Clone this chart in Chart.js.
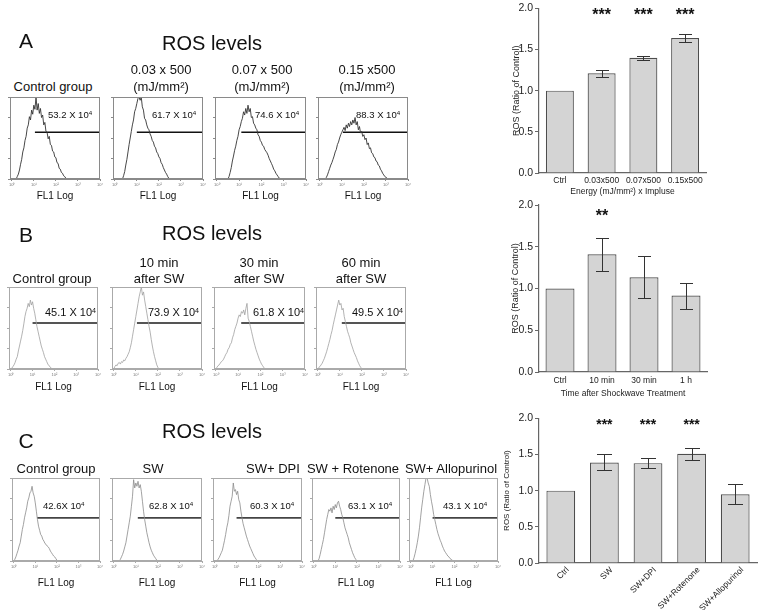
<!DOCTYPE html>
<html><head><meta charset="utf-8">
<script src="https://cdn.jsdelivr.net/npm/chart.js@4.4.0/dist/chart.umd.min.js"></script>
<style>
html,body{margin:0;padding:0;background:#fff;}
#wrap{position:relative;width:760px;height:610px;background:#fff;font-family:"Liberation Sans",Arial,sans-serif;color:#111;overflow:hidden}
.t{position:absolute;white-space:nowrap;line-height:1;transform:translate(-50%,-50%);text-align:center}
.l{position:absolute;white-space:nowrap;line-height:1;transform:translate(0,-50%)}
.sup{font-size:0.65em;position:relative;top:-0.45em}
canvas{position:absolute;}
</style></head><body><div id="wrap"></div>
<script>
// ===================== DATA =====================
const BIN = 0.05;                       // histogram bin width (decades)
const SUP = ['\u2070','\u00b9','\u00b2','\u00b3','\u2074'];

// ---- Row A (energy) ----
const titlesA = [['Control group'], ['0.03 x 500', '(mJ/mm\u00b2)'], ['0.07 x 500', '(mJ/mm\u00b2)'], ['0.15 x500', '(mJ/mm\u00b2)']];
const gateTextA = ['53.2 X 10', '61.7 X 10', '74.6 X 10', '88.3 X 10'];
const gateFromA = [1.05, 1.0, 1.1, 1.05];
const gateLevelA = 57;
const histStartA = [0.2, 0.35, 0.5, 0.25];
const histA1 = [0,3,6,11,18,24,33,38,47,52,62,66,76,72,84,79,90,85,100,84,92,80,86,75,78,66,69,58,57,49,52,42,41,34,33,27,26,20,19,13,12,8,7,4,3,1,0];
const histA2 = [0,4,9,17,24,33,42,50,58,66,72,82,86,92,98,100,96,100,88,84,74,72,66,62,60,55,52,47,45,40,38,33,31,27,25,20,18,14,11,8,6,3,1,0];
const histA3 = [0,3,8,14,22,28,35,40,47,52,60,64,70,74,82,78,86,80,90,82,86,75,76,68,66,62,60,54,52,47,45,41,40,36,34,32,29,25,22,19,16,12,10,7,5,3,1,0];
const histA4 = [0,2,5,9,13,17,20,24,28,33,36,42,45,50,54,57,60,63,59,66,62,68,64,70,66,72,68,75,66,70,60,64,56,58,52,54,48,50,42,44,37,38,32,31,27,26,22,21,17,16,12,10,7,5,3,2,1,0];

// ---- Row B (time) ----
const titlesB = [['Control group'], ['10 min', 'after SW'], ['30 min', 'after SW'], ['60 min', 'after SW']];
const gateTextB = ['45.1 X 10', '73.9 X 10', '61.8 X 10', '49.5 X 10'];
const gateFromB = [1.0, 1.05, 1.14, 1.09];
const gateLevelB = 56;
const histStartB = [0, 0, 0, 0];
const histB1 = [0,1,3,5,8,12,15,22,28,34,40,47,55,64,70,74,80,76,84,78,82,74,68,60,52,46,40,34,28,24,20,15,12,9,6,4,3,1,0];
const histB2 = [0,3,5,4,7,8,6,9,8,11,10,13,15,18,21,26,32,40,48,56,64,72,80,88,94,100,90,94,84,76,68,60,52,45,36,28,21,15,10,5,2,0];
const histB3 = [0,2,4,5,7,9,10,12,15,18,20,24,26,30,32,38,42,48,52,56,62,66,64,70,68,72,66,74,80,62,58,52,46,40,34,29,24,20,16,12,9,6,4,2,0];
const histB4 = [0,2,3,5,7,10,13,17,21,26,31,36,42,47,54,60,66,72,78,84,78,80,72,74,64,58,52,46,42,38,32,28,24,20,17,14,10,7,4,2,0];

// ---- Row C (inhibitors) ----
const titlesC = [['Control group'], ['SW'], ['SW+ DPI'], ['SW + Rotenone'], ['SW+ Allopurinol']];
const gateTextC = ['42.6X 10', '62.8 X 10', '60.3 X 10', '63.1 X 10', '43.1 X 10'];
const gateFromC = [1.09, 1.09, 1.0, 1.0, 1.0];
const gateLevelC = 52;
const histStartC = [0, 0.25, 0.1, 0.2, 0.1];
const histC1 = [0,2,5,9,13,18,22,30,38,44,52,58,64,72,76,82,84,90,82,78,70,60,50,42,37,32,30,26,24,21,20,18,17,15,12,10,8,6,5,3,1,0];
const histC2 = [0,2,5,8,12,17,22,30,38,46,54,66,78,98,88,94,90,96,88,92,84,72,60,50,42,34,28,22,17,13,10,7,5,3,1,0];
const histC3 = [0,2,4,7,10,13,19,25,32,40,46,55,66,72,78,94,84,86,80,84,74,70,60,52,45,40,35,30,26,22,18,15,12,9,6,4,2,0];
const histC4 = [0,3,8,14,20,26,34,42,50,56,62,60,64,58,66,62,68,64,70,72,66,62,56,52,46,40,36,32,28,22,18,14,10,7,4,2,0];
const histC5 = [0,4,9,15,22,30,40,52,64,74,84,92,100,100,94,90,80,72,65,56,50,44,38,33,29,25,22,18,15,12,10,8,6,5,3,2,1,0];

// ---- Bar charts ----
const barA_labels = ['Ctrl', '0.03x500', '0.07x500', '0.15x500'];
const barA_means  = [1.00, 1.21, 1.40, 1.64];
const barA_errs   = [0, 0.04, 0.025, 0.05];
const barA_stars  = ['', '***', '***', '***'];

const barB_labels = ['Ctrl', '10 min', '30 min', '1 h'];
const barB_means  = [1.00, 1.41, 1.135, 0.915];
const barB_errs   = [0, 0.20, 0.25, 0.155];
const barB_stars  = ['', '**', '', ''];

const barC_labels = ['Ctrl', 'SW', 'SW+DPI', 'SW+Rotenone', 'SW+Allopurinol'];
const barC_means  = [1.00, 1.39, 1.38, 1.51, 0.95];
const barC_errs   = [0, 0.11, 0.07, 0.08, 0.14];
const barC_stars  = ['', '***', '***', '***', ''];

const yTicksBar = [0, 0.5, 1.0, 1.5, 2.0];

// ===================== LAYOUT / DRAWING =====================
const FONT = '"Liberation Sans", Arial, sans-serif';
const wrap = document.getElementById('wrap');

function text(html, cx, cy, size, cls) {
  const d = document.createElement('div');
  d.className = cls || 't';
  d.style.left = cx + 'px'; d.style.top = cy + 'px'; d.style.fontSize = size + 'px';
  d.innerHTML = html;
  wrap.appendChild(d);
  return d;
}
function esc(s){return s.replace(/&/g,'&amp;').replace(/</g,'&lt;');}

const framePlugin = {
  id: 'frame',
  afterDraw(chart, args, opts) {
    const {ctx, chartArea: a} = chart;
    ctx.save();
    ctx.strokeStyle = opts.color || '#999';
    ctx.lineWidth = 1;
    ctx.strokeRect(Math.round(a.left) + 0.5, Math.round(a.top) + 0.5, Math.round(a.width) - 1, Math.round(a.height) - 1);
    ctx.restore();
  }
};

function histChart(box, counts, start, gateFrom, gateLevel, st) {
  const cv = document.createElement('canvas');
  const L = 8, T = 3, R = 5, B = 9;
  cv.width = box.w + L + R; cv.height = box.h + T + B;
  cv.style.left = (box.x - L) + 'px'; cv.style.top = (box.y - T) + 'px';
  wrap.appendChild(cv);
  const pts = counts.map((c, i) => ({x: +(start + i * BIN).toFixed(2), y: c}));
  new Chart(cv, {
    type: 'line',
    data: {datasets: [
      {data: pts, borderColor: st.line, borderWidth: st.lineW, pointRadius: 0, tension: 0},
      {data: [{x: gateFrom, y: gateLevel}, {x: 4, y: gateLevel}], borderColor: st.gate, borderWidth: st.gateW, pointRadius: 0}
    ]},
    options: {
      responsive: false, animation: false, events: [],
      layout: {padding: {top: T, right: R, left: 0, bottom: 0}},
      plugins: {legend: {display: false}, tooltip: {enabled: false}, frame: {color: st.frame}},
      scales: {
        x: {type: 'linear', min: -0.08, max: 4, afterFit: s => { s.height = B; },
            afterBuildTicks: s => { s.ticks = [0,1,2,3,4].map(v => ({value: v})); },
            ticks: {autoSkip: false, maxRotation: 0, padding: 1, color: '#777', font: {size: 4, family: FONT}, callback: v => '10' + SUP[v]},
            grid: {drawOnChartArea: false, tickLength: 2, color: st.frame}, border: {color: st.frame}},
        y: {min: 0, max: 100, afterFit: s => { s.width = L; },
            ticks: {stepSize: 25, display: false},
            grid: {drawOnChartArea: false, tickLength: 2, color: st.frame}, border: {color: st.frame}}
      }
    },
    plugins: [framePlugin]
  });
}

function row(cfg) {
  cfg.boxes.forEach((box, i) => {
    histChart(box, cfg.hists[i], cfg.starts[i], cfg.gateFrom[i], cfg.gateLevel, cfg.style);
    const tl = cfg.titles[i];
    if (tl.length === 1) text(esc(tl[0]), cfg.titleX[i], cfg.titleY1, 13);
    else { text(esc(tl[0]), cfg.titleX[i], cfg.titleY0, 13); text(esc(tl[1]), cfg.titleX[i], cfg.titleY1, 13); }
    text(esc(cfg.gateText[i]) + '<span class="sup">4</span>', cfg.gateX[i], cfg.gateY, cfg.gateFont, 'l');
    text('FL1 Log', box.x + box.w / 2, cfg.flY, 10);
  });
}

row({
  boxes: [{x:10,y:97,w:90,h:82},{x:113,y:97,w:90,h:82},{x:215,y:97,w:91,h:82},{x:318,y:97,w:90,h:82}],
  hists: [histA1, histA2, histA3, histA4], starts: histStartA, gateFrom: gateFromA, gateLevel: gateLevelA,
  titles: titlesA, titleX: [53,161,262,367], titleY0: 69, titleY1: 86,
  gateText: gateTextA, gateX: [48,152,255,356], gateY: 115, gateFont: 9.5, flY: 196,
  style: {line: '#333', lineW: 0.9, gate: '#111', gateW: 1.6, frame: '#8a8a8a'}
});
row({
  boxes: [{x:9,y:287,w:89,h:82},{x:112,y:287,w:90,h:82},{x:214,y:287,w:91,h:82},{x:316,y:287,w:90,h:82}],
  hists: [histB1, histB2, histB3, histB4], starts: histStartB, gateFrom: gateFromB, gateLevel: gateLevelB,
  titles: titlesB, titleX: [52,159,259,361], titleY0: 262, titleY1: 278,
  gateText: gateTextB, gateX: [45,148,253,352], gateY: 313, gateFont: 11, flY: 387,
  style: {line: '#a0a0a0', lineW: 0.8, gate: '#555', gateW: 2, frame: '#aaaaaa'}
});
row({
  boxes: [{x:12,y:478,w:88,h:83},{x:112,y:478,w:90,h:83},{x:213,y:478,w:89,h:83},{x:312,y:478,w:88,h:83},{x:409,y:478,w:89,h:83}],
  hists: [histC1, histC2, histC3, histC4, histC5], starts: histStartC, gateFrom: gateFromC, gateLevel: gateLevelC,
  titles: titlesC, titleX: [56,153,273,353,451], titleY0: 452, titleY1: 468,
  gateText: gateTextC, gateX: [43,149,250,348,443], gateY: 506, gateFont: 9.5, flY: 583,
  style: {line: '#8a8a8a', lineW: 0.8, gate: '#444', gateW: 1.8, frame: '#aaaaaa'}
});

text('A', 26, 40, 21); text('ROS levels', 212, 43, 20);
text('B', 26, 234, 21); text('ROS levels', 212, 233, 20);
text('C', 26, 440, 21); text('ROS levels', 212, 431, 20);

// ---- bar charts ----
function barChart(o) {
  const cv = document.createElement('canvas');
  cv.width = o.w; cv.height = o.h; cv.style.left = o.x + 'px'; cv.style.top = o.y + 'px';
  wrap.appendChild(cv);
  const errPlugin = {
    id: 'errbars',
    afterDatasetsDraw(chart) {
      const {ctx, scales: {x, y}} = chart;
      ctx.save();
      ctx.strokeStyle = '#333'; ctx.lineWidth = 1;
      o.errs.forEach((e, i) => {
        if (!e) return;
        const m = o.means[i];
        const px = Math.round(x.getPixelForValue(i)) + 0.5;
        const t = Math.round(y.getPixelForValue(m + e)) + 0.5, b = Math.round(y.getPixelForValue(m - e)) + 0.5;
        ctx.beginPath();
        ctx.moveTo(px, t); ctx.lineTo(px, b);
        ctx.moveTo(px - o.cap, t); ctx.lineTo(px + o.cap, t);
        ctx.moveTo(px - o.cap, b); ctx.lineTo(px + o.cap, b);
        ctx.stroke();
      });
      ctx.fillStyle = '#111'; ctx.textAlign = 'center'; ctx.textBaseline = 'alphabetic';
      ctx.font = 'bold ' + o.starFont + 'px ' + FONT;
      o.stars.forEach((s, i) => {
        if (!s) return;
        ctx.fillText(s, x.getPixelForValue(i), y.getPixelForValue(o.starLevel) + 0.55 * o.starFont);
      });
      ctx.restore();
    }
  };
  new Chart(cv, {
    type: 'bar',
    data: {labels: o.labels, datasets: [{data: o.means, backgroundColor: '#d4d4d4', borderColor: '#4d4d4d', borderWidth: 1.2,
      barPercentage: o.barPct, categoryPercentage: 1}]},
    options: {
      responsive: false, animation: false, events: [],
      layout: {padding: o.pad},
      plugins: {legend: {display: false}, tooltip: {enabled: false}},
      scales: {
        x: {afterFit: s => { s.height = o.xH; },
            grid: {display: false, drawTicks: false}, border: {color: '#666', width: 1.2},
            ticks: {color: '#222', font: {size: o.xFont, family: FONT}, padding: o.xPad, autoSkip: false,
                    minRotation: o.rot, maxRotation: o.rot, labelOffset: o.labelOffset || 0},
            title: {display: !!o.xTitle, text: o.xTitle || '', color: '#222', font: {size: 8.5, family: FONT}, padding: {top: 0, bottom: 1}}},
        y: {min: 0, max: 2, afterFit: s => { s.width = o.yW; },
            afterBuildTicks: s => { s.ticks = yTicksBar.map(v => ({value: v})); },
            ticks: {callback: v => Number(v).toFixed(1), color: '#222', font: {size: 10.5, family: FONT}, padding: 2},
            grid: {drawOnChartArea: false, tickLength: 4, color: '#666'}, border: {color: '#666', width: 1.2},
            title: {display: true, text: 'ROS (Ratio of Control)', color: '#222', font: {size: o.yTitleFont, family: FONT}, padding: {top: o.yTitlePad, bottom: 0}}}
      }
    },
    plugins: [errPlugin]
  });
}

barChart({x: 496, y: 0, w: 219, h: 198, pad: {top: 7, right: 9, left: 0, bottom: 0}, xH: 25, yW: 43,
  labels: barA_labels, means: barA_means, errs: barA_errs, stars: barA_stars, starLevel: 1.96, starFont: 16,
  barPct: 0.67, cap: 6.5, xFont: 8.5, xPad: 3, rot: 0, xTitle: 'Energy (mJ/mm\u00b2) x Impluse', yTitleFont: 9, yTitlePad: 15});

barChart({x: 496, y: 195, w: 219, h: 205, pad: {top: 10, right: 8, left: 0, bottom: 0}, xH: 28, yW: 43,
  labels: barB_labels, means: barB_means, errs: barB_errs, stars: barB_stars, starLevel: 1.91, starFont: 16,
  barPct: 0.69, cap: 6.5, xFont: 8.5, xPad: 4, rot: 0, xTitle: 'Time after Shockwave Treatment', yTitleFont: 9, yTitlePad: 14});

barChart({x: 496, y: 410, w: 264, h: 200, pad: {top: 8, right: 3, left: 0, bottom: 0}, xH: 47, yW: 43,
  labels: barC_labels, means: barC_means, errs: barC_errs, stars: barC_stars, starLevel: 1.96, starFont: 14,
  barPct: 0.66, cap: 7.5, xFont: 8.5, xPad: 2, rot: 45, labelOffset: 7, xTitle: '', yTitleFont: 8, yTitlePad: 6});
</script>
</body></html>
